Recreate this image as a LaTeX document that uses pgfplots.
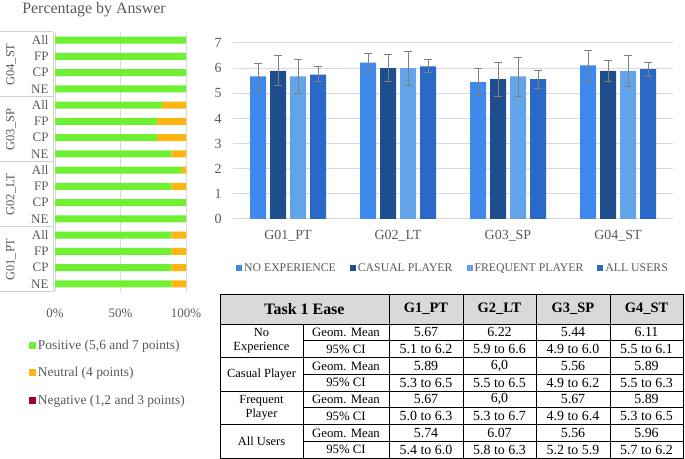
\documentclass[border=0pt]{standalone}
\usepackage{fontspec}
\setmainfont{Liberation Serif}
\usepackage{pgfplots}
\pgfplotsset{compat=1.18}
\definecolor{cpos}{HTML}{70F032}
\definecolor{cneu}{HTML}{FFB50F}
\definecolor{cneg}{HTML}{A00028}
\definecolor{cNE}{HTML}{3F88EC}
\definecolor{cCP}{HTML}{1F4E8F}
\definecolor{cFP}{HTML}{62A3EA}
\definecolor{cAU}{HTML}{2A69C8}
\definecolor{txt}{HTML}{595959}
\definecolor{gridc}{HTML}{D9D9D9}
\definecolor{boxc}{HTML}{D0D0D0}
\definecolor{errc}{HTML}{7F7F7F}
\definecolor{hdr}{HTML}{D9D9D9}
\newcommand{\fs}[1]{\fontsize{#1}{#1}\selectfont}
\begin{document}
\begin{tikzpicture}
\path[use as bounding box] (0,0) rectangle (685bp,459bp);
% ---------------- left stacked bar chart ----------------
\begin{axis}[at={(55bp,167bp)}, anchor=south west, scale only axis,
  width=131bp, height=260bp,
  xbar stacked, bar width=7bp,
  xmin=0, xmax=100, ymin=-0.5, ymax=15.5,
  axis line style={draw=none},
  ytick={0,...,15},
  yticklabels={NE,CP,FP,All,NE,CP,FP,All,NE,CP,FP,All,NE,CP,FP,All},
  xtick={0,50,100}, xticklabels={0\%,50\%,100\%},
  xmajorgrids, grid style={gridc, line width=1bp},
  major tick length=0,
  tick label style={txt, font=\fs{13}},
  xticklabel style={yshift=-13bp},
  yticklabel style={xshift=-3bp},
  /pgf/number format/assume math mode=true,
  clip=false,
  legend cell align=left,
  legend style={at={(-0.2,-0.177)}, anchor=north west, draw=none, fill=none,
    font=\fs{13.5}, text=txt, row sep=12.5bp, inner sep=0pt},
]
\addplot[fill=cpos, draw=none, legend image code/.code={\fill[cpos] (0bp,-3.5bp) rectangle (7bp,3.5bp);}] coordinates {
 (88.9,0) (88.9,1) (88.9,2) (88.9,3)
 (100,4) (100,5) (88.9,6) (96.3,7)
 (88.9,8) (77.8,9) (77.8,10) (81.5,11)
 (100,12) (100,13) (100,14) (100,15)};
\addplot[fill=cneu, draw=none, legend image code/.code={\fill[cneu] (0bp,-3.5bp) rectangle (7bp,3.5bp);}] coordinates {
 (11.1,0) (11.1,1) (11.1,2) (11.1,3)
 (0,4) (0,5) (11.1,6) (3.7,7)
 (11.1,8) (22.2,9) (22.2,10) (18.5,11)
 (0,12) (0,13) (0,14) (0,15)};
\addplot[fill=cneg, draw=none, legend image code/.code={\fill[cneg] (0bp,-3.5bp) rectangle (7bp,3.5bp);}] coordinates {
 (0,0) (0,1) (0,2) (0,3) (0,4) (0,5) (0,6) (0,7)
 (0,8) (0,9) (0,10) (0,11) (0,12) (0,13) (0,14) (0,15)};
\legend{{Positive (5,6 and 7 points)}, {Neutral (4 points)}, {Negative (1,2 and 3 points)}}
\end{axis}
% ---------------- right grouped bar chart ----------------
\begin{axis}[at={(233bp,240bp)}, anchor=south west, scale only axis,
  width=440bp, height=176bp,
  ybar=4bp, bar width=16bp,
  xmin=-0.5, xmax=3.5, ymin=0, ymax=7,
  ytick={0,...,7},
  xtick={0,1,2,3}, xticklabels={G01\_PT,G02\_LT,G03\_SP,G04\_ST},
  ymajorgrids, grid style={gridc, line width=1bp},
  axis line style={draw=none},
  major tick length=0,
  tick label style={txt, font=\fs{14}},
  xticklabel style={yshift=-8bp},
  yticklabel style={xshift=-8bp},
  /pgf/number format/assume math mode=true,
  clip=false,
  legend columns=4,
  legend style={at={(0.5,-0.278)}, anchor=center, draw=none, fill=none,
    font=\fs{11.8}, text=txt,
    /tikz/every even column/.append style={column sep=12bp}},
  error bars/error bar style={errc, line width=0.9bp},
  error bars/error mark options={errc, rotate=90, mark size=4bp, line width=0.9bp},
]
\addplot[fill=cNE, draw=none, legend image code/.code={\fill[cNE] (0bp,-3bp) rectangle (6bp,3bp);},
  error bars/.cd, y dir=both, y explicit] coordinates {
 (0,5.67) +=(0,0.53) -=(0,0.57)
 (1,6.22) +=(0,0.38) -=(0,0.32)
 (2,5.44) +=(0,0.56) -=(0,0.54)
 (3,6.11) +=(0,0.59) -=(0,0.61)};
\addplot[fill=cCP, draw=none, legend image code/.code={\fill[cCP] (0bp,-3bp) rectangle (6bp,3bp);},
  error bars/.cd, y dir=both, y explicit] coordinates {
 (0,5.89) +=(0,0.61) -=(0,0.59)
 (1,6.0) +=(0,0.56) -=(0,0.54)
 (2,5.56) +=(0,0.67) -=(0,0.68)
 (3,5.89) +=(0,0.43) -=(0,0.43)};
\addplot[fill=cFP, draw=none, legend image code/.code={\fill[cFP] (0bp,-3bp) rectangle (6bp,3bp);},
  error bars/.cd, y dir=both, y explicit] coordinates {
 (0,5.67) +=(0,0.67) -=(0,0.66)
 (1,6.0) +=(0,0.68) -=(0,0.68)
 (2,5.67) +=(0,0.77) -=(0,0.79)
 (3,5.89) +=(0,0.61) -=(0,0.60)};
\addplot[fill=cAU, draw=none, legend image code/.code={\fill[cAU] (0bp,-3bp) rectangle (6bp,3bp);},
  error bars/.cd, y dir=both, y explicit] coordinates {
 (0,5.74) +=(0,0.31) -=(0,0.28)
 (1,6.07) +=(0,0.27) -=(0,0.26)
 (2,5.56) +=(0,0.33) -=(0,0.35)
 (3,5.96) +=(0,0.27) -=(0,0.29)};
\legend{NO EXPERIENCE, CASUAL PLAYER, FREQUENT PLAYER, ALL USERS}
\end{axis}
% ---------------- decorations in pixel coordinates ----------------
\begin{scope}[x=1bp, y=-1bp, yshift=459bp]
\node[txt, font=\fs{16}] at (94,10) {Percentage by Answer};
% group label box
\draw[boxc, line width=1bp] (53,32) -- (53,292);
\foreach \yy in {32,97,162,227,292} \draw[boxc, line width=1bp] (0,\yy) -- (53,\yy);
\node[txt, font=\fs{12.5}, rotate=90] at (11,64.5) {G04\_ST};
\node[txt, font=\fs{12.5}, rotate=90] at (11,129.5) {G03\_SP};
\node[txt, font=\fs{12.5}, rotate=90] at (11,194.5) {G02\_LT};
\node[txt, font=\fs{12.5}, rotate=90] at (11,259.5) {G01\_PT};
% table
\fill[hdr] (220,294) rectangle (683,324);
\begin{scope}[line width=0.9bp, black]
\draw (220,294) rectangle (683,458);
\foreach \yy in {324,357.5,391,424.5} \draw (220,\yy) -- (683,\yy);
\foreach \yy in {340.75,374.25,407.75,441.25} \draw (303,\yy) -- (683,\yy);
\draw (303,324) -- (303,458);
\foreach \xx in {389,463,536,610} \draw (\xx,294) -- (\xx,458);
\end{scope}
\node[font=\bfseries\fs{16}] at (304.5,309) {Task 1 Ease};
\node[font=\bfseries\fs{14.5}] at (426,309) {G1\_PT};
\node[font=\bfseries\fs{14.5}] at (499.5,309) {G2\_LT};
\node[font=\bfseries\fs{14.5}] at (573,309) {G3\_SP};
\node[font=\bfseries\fs{14.5}] at (646.5,309) {G4\_ST};
% group names
\node[font=\fs{12.5}, align=center, inner sep=0pt] at (261.5,341) {No\\[1.5bp]Experience};
\node[font=\fs{12.5}, inner sep=0pt] at (261.5,374.25) {Casual Player};
\node[font=\fs{12.5}, align=center, inner sep=0pt] at (261.5,407.75) {Frequent\\[1.5bp]Player};
\node[font=\fs{12.5}, inner sep=0pt] at (261.5,441.25) {All Users};
% row labels
\foreach \r in {0,2,4,6} {
  \node[font=\fs{12.8}] at (346,{332.4+16.75*\r}) {Geom. Mean};
  \node[font=\fs{12.8}] at (346,{332.4+16.75*(\r+1)}) {95\% CI};
}
% values
\newcommand{\rowvals}[5]{%
  \node[font=\fs{14}] at (426,#1) {#2};
  \node[font=\fs{14}] at (499.5,#1) {#3};
  \node[font=\fs{14}] at (573,#1) {#4};
  \node[font=\fs{14}] at (646.5,#1) {#5};}
\rowvals{332.4}{5.67}{6.22}{5.44}{6.11}
\rowvals{349.15}{5.1 to 6.2}{5.9 to 6.6}{4.9 to 6.0}{5.5 to 6.1}
\rowvals{365.9}{5.89}{6,0}{5.56}{5.89}
\rowvals{382.65}{5.3 to 6.5}{5.5 to 6.5}{4.9 to 6.2}{5.5 to 6.3}
\rowvals{399.4}{5.67}{6,0}{5.67}{5.89}
\rowvals{416.15}{5.0 to 6.3}{5.3 to 6.7}{4.9 to 6.4}{5.3 to 6.5}
\rowvals{432.9}{5.74}{6.07}{5.56}{5.96}
\rowvals{449.65}{5.4 to 6.0}{5.8 to 6.3}{5.2 to 5.9}{5.7 to 6.2}
\end{scope}
\end{tikzpicture}
\end{document}
